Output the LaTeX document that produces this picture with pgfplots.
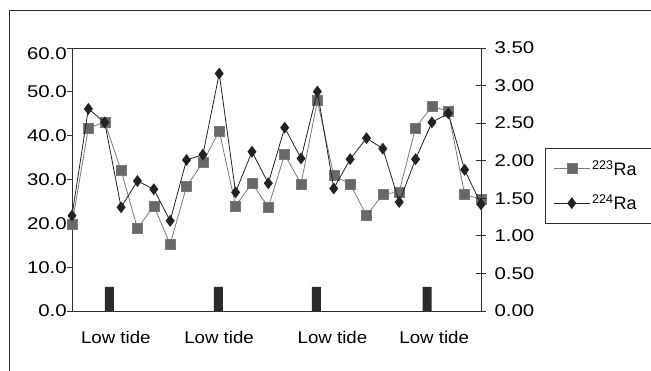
\documentclass[border=0pt]{standalone}
\usepackage{pgfplots}
\pgfplotsset{compat=1.18}
\usepackage{fontspec}
\setmainfont{Liberation Sans}
\definecolor{sqfill}{HTML}{686868}
\definecolor{sqline}{HTML}{7A7A7A}
\definecolor{dmfill}{HTML}{222222}
\definecolor{axcol}{HTML}{2E2E2E}
\definecolor{barcol}{HTML}{2A2A2A}
\begin{document}
\begin{tikzpicture}[x=1pt,y=1pt]
\useasboundingbox (0,0) rectangle (651,371);
\clip (0,0) rectangle (651,371);
\fill[white] (0,0) rectangle (651,371);
\draw[line width=1pt, color=axcol] (9.5,-30) rectangle (700,360.5);
\begin{axis}[
  at={(72pt,60pt)}, anchor=south west,
  scale only axis, width=409pt, height=263pt,
  xmin=0, xmax=25, ymin=0, ymax=60,
  axis line style={axcol, line width=0.9pt},
  ytick={0,10,...,50},
  yticklabels={0.0,10.0,20.0,30.0,40.0,50.0},
  extra y ticks={60}, extra y tick labels={60.0},
  extra y tick style={yticklabel style={yshift=-6pt}},
  ytick pos=left, tick align=outside, major tick length=5pt,
  tick style={axcol, line width=0.9pt},
  yticklabel style={font=\fontsize{17}{17}\selectfont, xscale=1.2, inner sep=0pt, anchor=east},
  xtick={2.68,8.99,15.92,22.14},
  xticklabels={Low tide,Low tide,Low tide,Low tide},
  x tick style={draw=none},
  xticklabel style={font=\fontsize{17}{17}\selectfont, xscale=1.1, inner sep=0pt, anchor=north, yshift=-15pt},
  legend style={at={(1.1565,0.62)}, anchor=north west, draw=axcol, line width=0.8pt,
    inner xsep=8pt, inner ysep=10pt, row sep=14pt,
    font=\fontsize{18}{18}\selectfont},
  legend cell align=left,
  legend image code/.code={\draw[mark repeat=2,mark phase=2,#1] plot coordinates {(0pt,0pt) (18pt,0pt) (36pt,0pt)};},
]
\addplot[ybar, bar width=9pt, bar shift=0pt, fill=barcol, draw=none, forget plot]
  coordinates {(2.29,5.5) (8.94,5.5) (14.94,5.5) (21.71,5.5)};
\addplot[sqline, line width=0.8pt, mark=square*, mark size=5pt, mark options={fill=sqfill, draw=sqline, line width=0.4pt}]
  coordinates {(0,19.8) (1,41.7) (2,43.1) (3,32.1) (4,18.8) (5,24.0) (6,15.2) (7,28.4) (8,33.9) (9,41.1)
  (10,24.0) (11,29.1) (12,23.7) (13,35.7) (14,29.0) (15,48.0) (16,30.9) (17,29.0) (18,21.8) (19,26.6)
  (20,27.2) (21,41.8) (22,46.7) (23,45.6) (24,26.6) (25,25.5)};
\addlegendentry{\makebox[50pt][l]{\textsuperscript{223}Ra}}
\addlegendimage{dmfill, line width=0.8pt, mark=diamond*, mark size=5.3pt, mark options={fill=dmfill, draw=dmfill}}
\addlegendentry{\makebox[50pt][l]{\textsuperscript{224}Ra}}
\end{axis}
\begin{axis}[
  at={(72pt,60pt)}, anchor=south west,
  scale only axis, width=409pt, height=263pt,
  xmin=0, xmax=25, ymin=0, ymax=3.5,
  axis x line=none, axis y line*=right,
  axis line style={axcol, line width=0.9pt, -},
  ytick={0,0.5,...,3.5},
  yticklabels={0.00,0.50,1.00,1.50,2.00,2.50,3.00,3.50},
  tick align=center, major tick length=10pt,
  tick style={axcol, line width=0.9pt},
  yticklabel style={font=\fontsize{17}{17}\selectfont, xscale=1.2, inner sep=0pt, anchor=west, xshift=7pt},
]
\addplot[dmfill, line width=0.8pt, mark=diamond*, mark size=5.3pt, mark options={fill=dmfill, draw=dmfill}]
  coordinates {(0,1.27) (1,2.69) (2,2.51) (3,1.38) (4,1.73) (5,1.62) (6,1.20) (7,2.01) (8,2.08) (9,3.16)
  (10,1.58) (11,2.12) (12,1.70) (13,2.44) (14,2.03) (15,2.92) (16,1.63) (17,2.02) (18,2.30) (19,2.16)
  (20,1.45) (21,2.02) (22,2.51) (23,2.63) (24,1.88) (25,1.42)};
\end{axis}
\end{tikzpicture}
\end{document}
